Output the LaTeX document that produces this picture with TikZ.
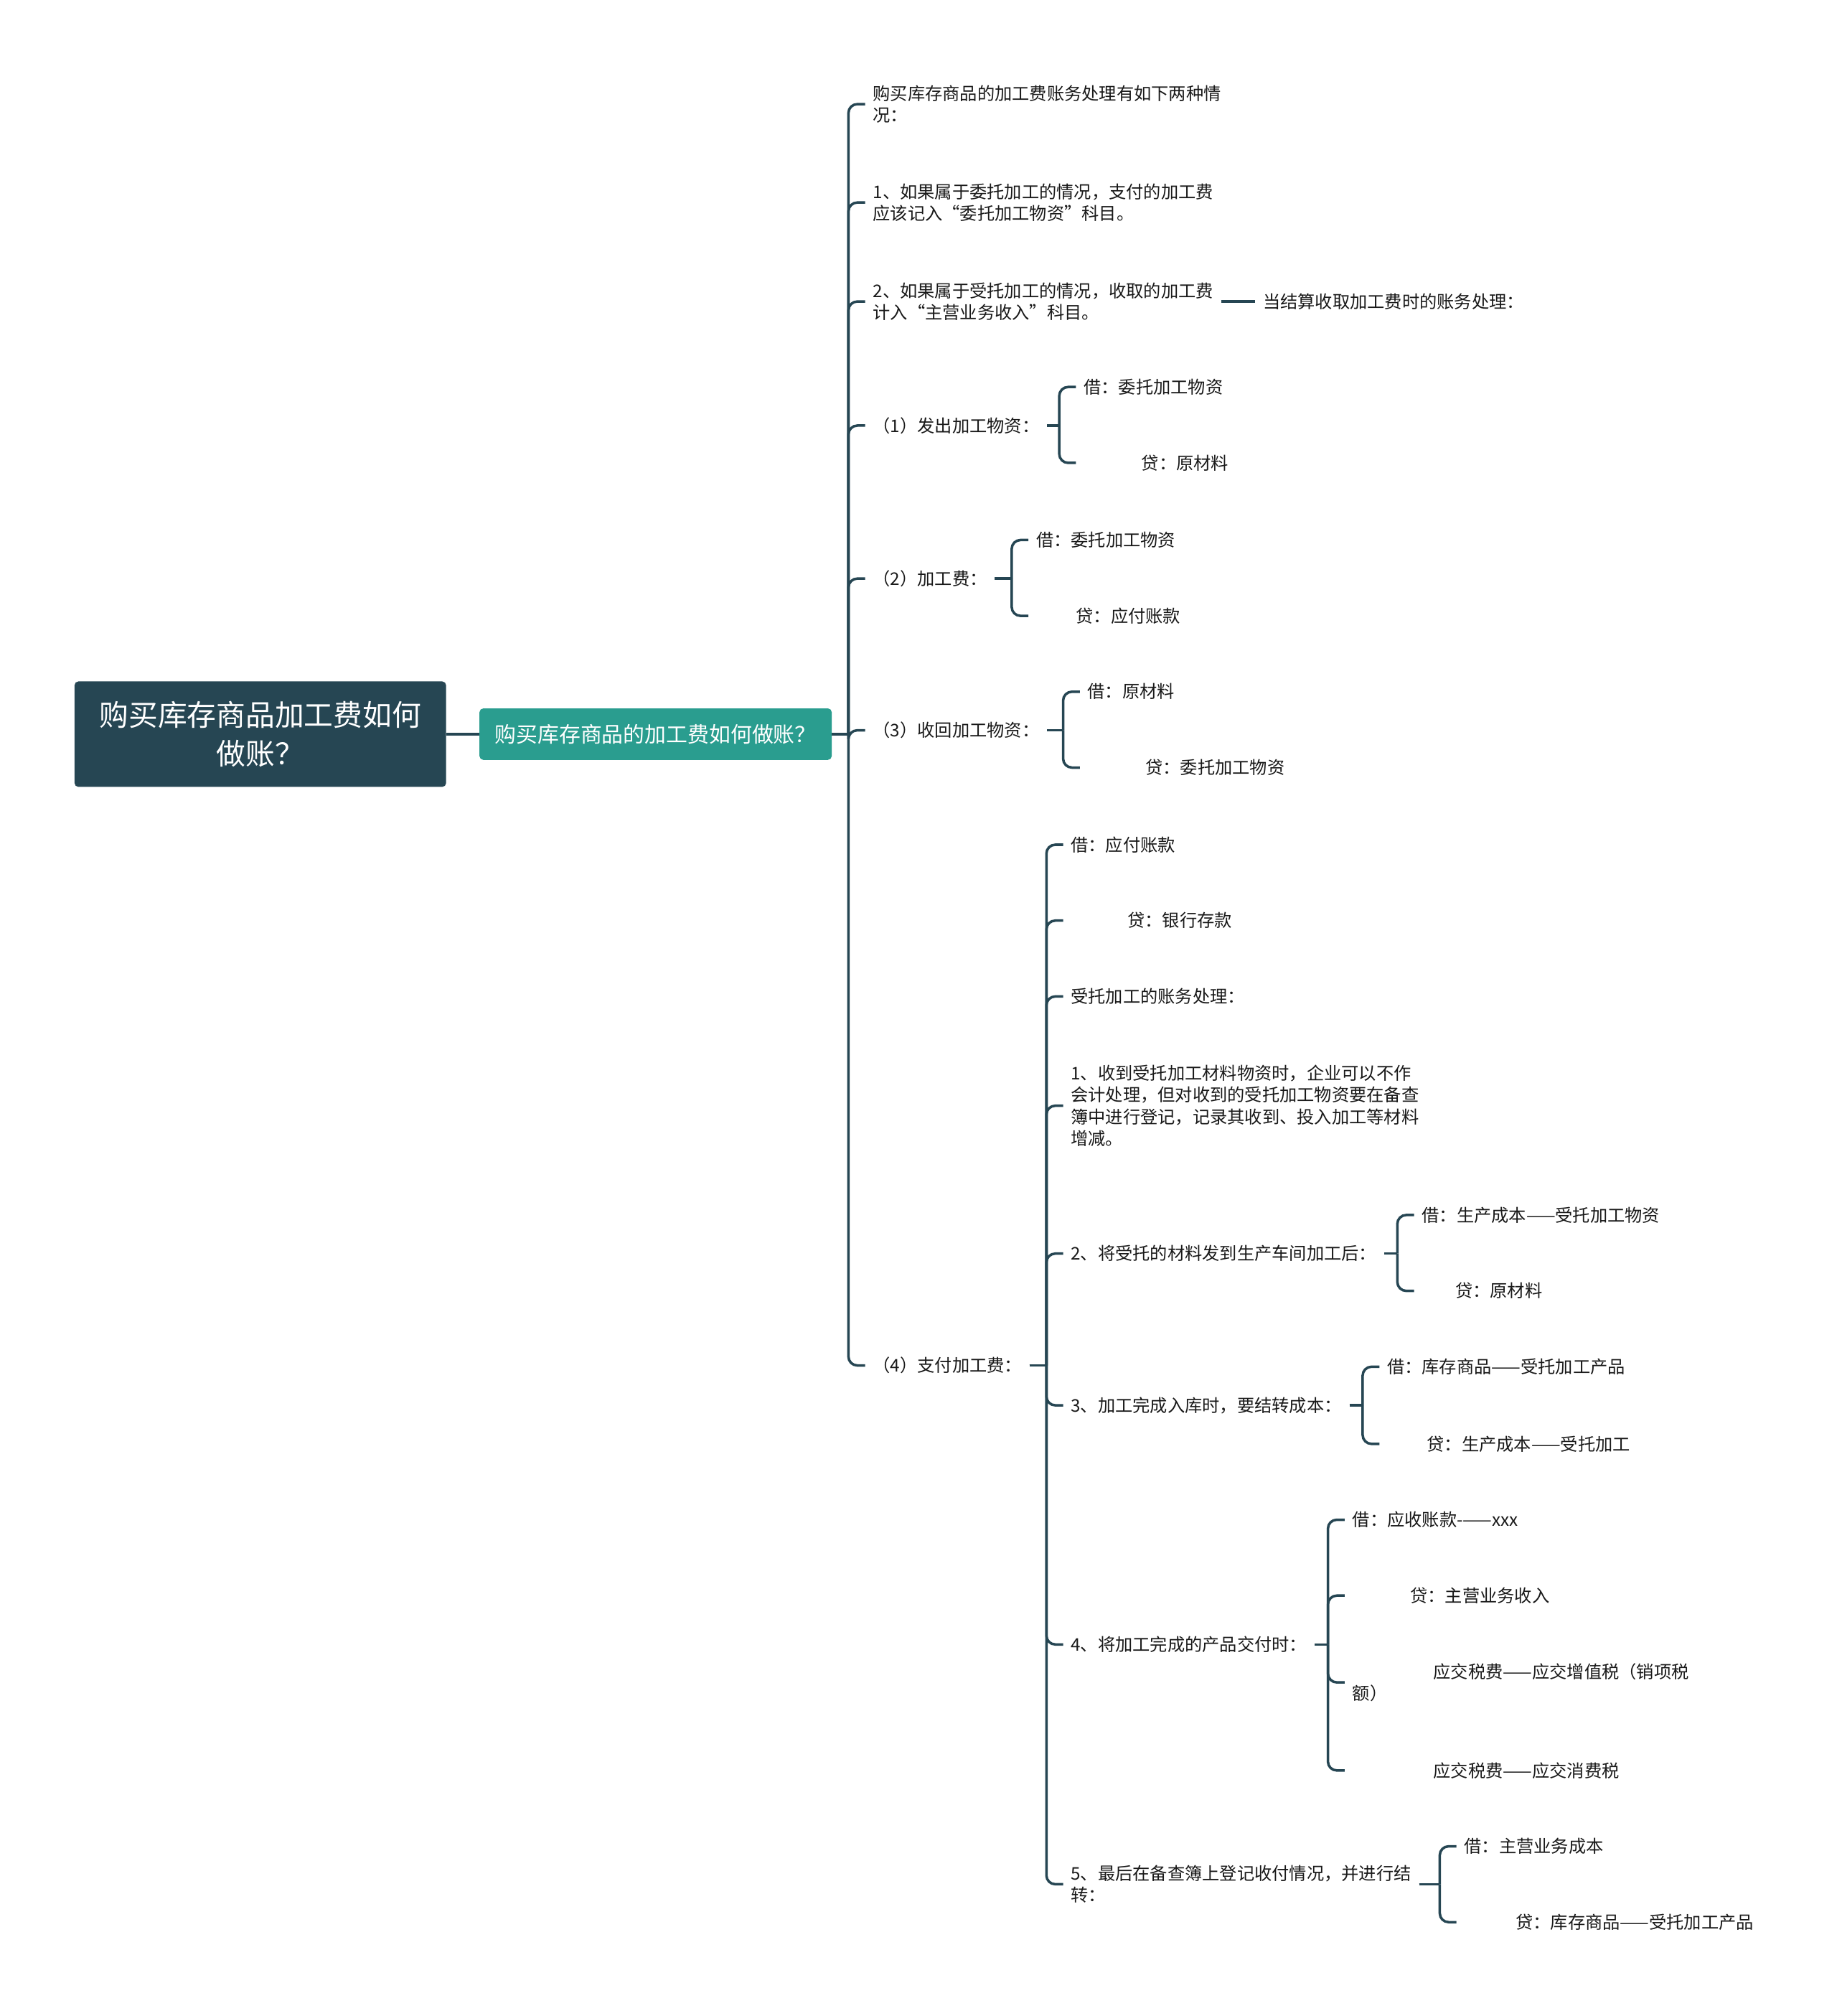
\documentclass[tikz,border=0pt]{standalone}
\usepackage{fontspec}
\setmainfont{Noto Sans CJK SC}
\usepackage{tikz}
\usetikzlibrary{positioning, calc}
\definecolor{slate}{HTML}{264653}
\definecolor{mint}{HTML}{2A9D8F}
\newlength{\unitpx}
\setlength{\unitpx}{0.03583cm}
\newcommand{\indpx}[1]{\hspace*{#1\unitpx}}

\begin{document}
\begin{tikzpicture}[x=0.03583cm, y=-0.03583cm,
    rootbox/.style={fill=slate, text=white, rounded corners=3pt, align=center,
        minimum width=10.355cm, minimum height=2.938cm, inner sep=0,
        font=\fontsize{23.2}{30.6}\selectfont},
    topicbox/.style={fill=mint, text=white, rounded corners=3pt,
        minimum width=9.817cm, minimum height=1.433cm, inner sep=0,
        font=\fontsize{17}{20}\selectfont},
    leaf/.style={anchor=west, inner xsep=6pt, inner ysep=0pt, align=left,
        text=black!90, font=\fontsize{13.8}{17.3}\selectfont},
    link/.style={draw=slate, line width=2pt},
    curvelink/.style={link, rounded corners=7pt}]

    \fill[white] (0,0) rectangle (1429,1568);
    \useasboundingbox (0,0) rectangle (1429,1568);

    % Root and topic
    \node[rootbox] (root) at (202.5,571) {购买库存商品加工费如何\\做账？};
    \node[topicbox] (S) at (510,571) {购买库存商品的加工费如何做账？};

    % First level
    \node[leaf] (A) at (673,81) {购买库存商品的加工费账务处理有如下两种情\\况：};
    \node[leaf] (B) at (673,157.5) {1、如果属于委托加工的情况，支付的加工费\\应该记入“委托加工物资”科目。};
    \node[leaf] (C) at (673,234.5) {2、如果属于受托加工的情况，收取的加工费\\计入“主营业务收入”科目。};
    \node[leaf, right=27pt of C] (C1) {当结算收取加工费时的账务处理：};
    \node[leaf] (D) at (673,331) {（1）发出加工物资：};
    \node[leaf] (E) at (673,450) {（2）加工费：};
    \node[leaf] (F) at (673,568) {（3）收回加工物资：};
    \node[leaf] (G) at (673,1062) {（4）支付加工费：};

    % (1) (2) (3)
    \node[leaf] (D1) at (837,301) {借：委托加工物资};
    \node[leaf] (D2) at (837,360) {\indpx{45}贷：原材料};
    \node[leaf] (E1) at (800,420) {借：委托加工物资};
    \node[leaf] (E2) at (800,479) {\indpx{31}贷：应付账款};
    \node[leaf] (F1) at (840,538) {借：原材料};
    \node[leaf] (F2) at (840,597) {\indpx{45}贷：委托加工物资};

    % (4)
    \node[leaf] (G1) at (827,657) {借：应付账款};
    \node[leaf] (G2) at (827,716) {\indpx{44}贷：银行存款};
    \node[leaf] (G3) at (827,775) {受托加工的账务处理：};
    \node[leaf] (G4) at (827,860) {1、收到受托加工材料物资时，企业可以不作\\会计处理，但对收到的受托加工物资要在备查\\簿中进行登记，记录其收到、投入加工等材料\\增减。};
    \node[leaf] (G5) at (827,975) {2、将受托的材料发到生产车间加工后：};
    \node[leaf] (G6) at (827,1093) {3、加工完成入库时，要结转成本：};
    \node[leaf] (G7) at (827,1279) {4、将加工完成的产品交付时：};
    \node[leaf] (G8) at (827,1465.5) {5、最后在备查簿上登记收付情况，并进行结\\转：};

    \node[leaf] (G51) at (1100,945) {借：生产成本——受托加工物资};
    \node[leaf] (G52) at (1100,1004) {\indpx{26}贷：原材料};
    \node[leaf] (G61) at (1073,1063) {借：库存商品——受托加工产品};
    \node[leaf] (G62) at (1073,1123) {\indpx{31}贷：生产成本——受托加工};
    \node[leaf] (G71) at (1046,1182) {借：应收账款-——xxx};
    \node[leaf] (G72) at (1046,1241) {\indpx{45}贷：主营业务收入};
    \node[leaf] (G73) at (1046,1308.5) {\indpx{63}应交税费——应交增值税（销项税\\额）};
    \node[leaf] (G74) at (1046,1377) {\indpx{63}应交税费——应交消费税};
    \node[leaf] (G81) at (1133,1436) {借：主营业务成本};
    \node[leaf] (G82) at (1133,1495) {\indpx{40}贷：库存商品——受托加工产品};

    % Connectors
    \draw[link] (root.east) -- (S.west);
    \draw[link] (C.east) -- (C1.west);
    \foreach \p/\c in {S/A, S/B, S/C, S/D, S/E, S/F, S/G,
                       D/D1, D/D2, E/E1, E/E2, F/F1, F/F2,
                       G/G1, G/G2, G/G3, G/G4, G/G5, G/G6, G/G7, G/G8,
                       G5/G51, G5/G52, G6/G61, G6/G62,
                       G7/G71, G7/G72, G7/G73, G7/G74, G8/G81, G8/G82} {
        \coordinate (j) at ($(\p.east -| \c.west)+(-13,0)$);
        \draw[link] (\p.east) -- (j);
        \draw[curvelink] (j) |- (\c.west);
    }
\end{tikzpicture}
\end{document}
